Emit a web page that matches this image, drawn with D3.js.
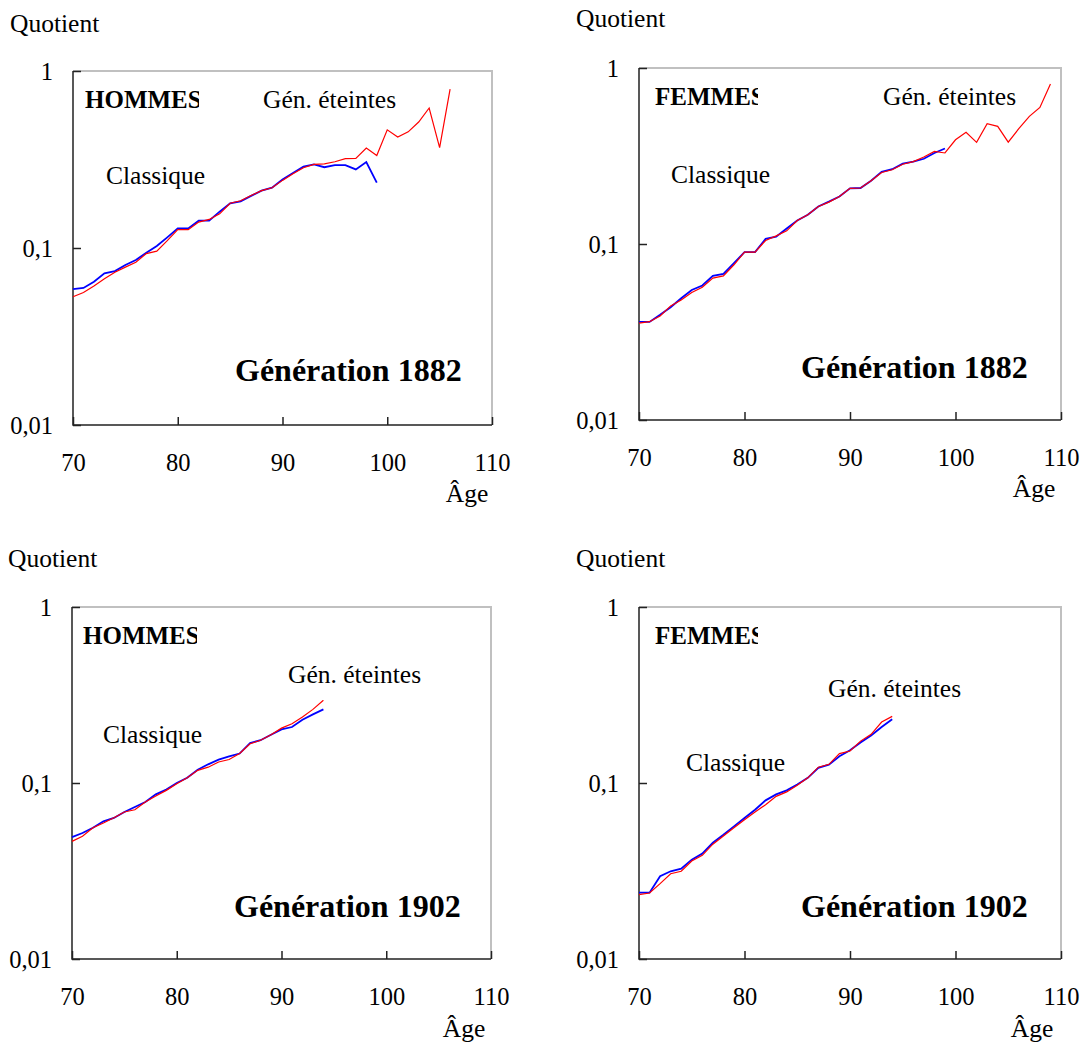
<!DOCTYPE html>
<html>
<head>
<meta charset="utf-8">
<script src="https://cdn.jsdelivr.net/npm/d3@7"></script>
<style>
  body { margin: 0; background: #fff; }
  text { font-family: "Liberation Serif", "Times New Roman", "DejaVu Serif", serif; }
</style>
</head>
<body>
<svg id="chart" width="1083" height="1043"></svg>
<script>
// quotients de mortalité, âge 70 et suivants (un point par année)
const AGE_START = 70;
const X_TICKS = [70, 80, 90, 100, 110];
const Y_TICKS = [1, 0.1, 0.01];
const Y_LABELS = ['1', '0,1', '0,01'];

const hommes1882Eteintes = [0.053, 0.056, 0.061, 0.067, 0.073, 0.078, 0.083, 0.093, 0.096, 0.110,
  0.127, 0.127, 0.140, 0.145, 0.156, 0.179, 0.185, 0.198, 0.211, 0.219,
  0.241, 0.263, 0.284, 0.297, 0.299, 0.307, 0.320, 0.321, 0.367, 0.333,
  0.465, 0.424, 0.453, 0.515, 0.618, 0.369, 0.79];
const hommes1882Classique = [0.0585, 0.0595, 0.0645, 0.0719, 0.0741, 0.0801, 0.0855, 0.0941, 0.1026, 0.1148,
  0.129, 0.129, 0.1427, 0.1427, 0.1604, 0.1788, 0.1836, 0.197, 0.211, 0.219,
  0.244, 0.265, 0.288, 0.297, 0.286, 0.294, 0.294, 0.278, 0.306, 0.234];

const femmes1882Eteintes = [0.0355, 0.0362, 0.0390, 0.0445, 0.0481, 0.0530, 0.0568, 0.0640, 0.0659, 0.0762,
  0.0899, 0.0899, 0.1047, 0.1112, 0.1188, 0.136, 0.1466, 0.1634, 0.173, 0.186,
  0.207, 0.208, 0.229, 0.255, 0.264, 0.284, 0.294, 0.312, 0.336, 0.329,
  0.391, 0.431, 0.378, 0.482, 0.466, 0.379, 0.452, 0.531, 0.597, 0.811];
const femmes1882Classique = [0.0361, 0.0361, 0.0396, 0.0437, 0.0492, 0.0548, 0.0581, 0.0659, 0.0676, 0.0778,
  0.0899, 0.0899, 0.107, 0.110, 0.1225, 0.136, 0.1466, 0.1634, 0.174, 0.186,
  0.207, 0.208, 0.229, 0.257, 0.266, 0.286, 0.294, 0.305, 0.329, 0.349];

const hommes1902Eteintes = [0.0466, 0.0498, 0.0557, 0.0593, 0.0635, 0.0684, 0.0705, 0.078, 0.0843, 0.0908,
  0.0991, 0.107, 0.118, 0.123, 0.1316, 0.136, 0.147, 0.167, 0.175, 0.188,
  0.205, 0.217, 0.237, 0.262, 0.295];
const hommes1902Classique = [0.0493, 0.052, 0.0557, 0.0606, 0.0633, 0.0684, 0.073, 0.078, 0.0862, 0.0917,
  0.100, 0.107, 0.119, 0.1277, 0.1357, 0.1418, 0.147, 0.1687, 0.175, 0.188,
  0.2018, 0.208, 0.229, 0.2455, 0.262];

const femmes1902Eteintes = [0.0232, 0.0237, 0.0268, 0.0305, 0.0315, 0.0360, 0.0388, 0.0449, 0.050, 0.0557,
  0.0619, 0.0684, 0.0753, 0.084, 0.089, 0.097, 0.107, 0.123, 0.1277, 0.147,
  0.152, 0.173, 0.189, 0.222, 0.239];
const femmes1902Classique = [0.0238, 0.0238, 0.0295, 0.0315, 0.0326, 0.0367, 0.0397, 0.0458, 0.0508, 0.0567,
  0.0632, 0.0705, 0.0797, 0.0862, 0.0908, 0.098, 0.107, 0.122, 0.127, 0.1418,
  0.1533, 0.170, 0.186, 0.208, 0.230];

// mise en page des 4 panneaux (positions relatives au cadre)
const PANELS = [
  { x: 73, y: 71, w: 419, h: 354, sexe: 'HOMMES', clipW: 126, sexeX: 12, gen: 'Génération 1882',
    eteintes: hommes1882Eteintes, classique: hommes1882Classique,
    classiquePos: [33, 113], eteintesPos: [190, 37], quotientPos: [-63, -39], agePos: [394, 431] },
  { x: 639, y: 68, w: 422, h: 352, sexe: 'FEMMES', clipW: 119, sexeX: 16, gen: 'Génération 1882',
    eteintes: femmes1882Eteintes, classique: femmes1882Classique,
    classiquePos: [32, 115], eteintesPos: [244, 37], quotientPos: [-63, -41], agePos: [395, 429] },
  { x: 72, y: 607, w: 419, h: 352, sexe: 'HOMMES', clipW: 125, sexeX: 11, gen: 'Génération 1902',
    eteintes: hommes1902Eteintes, classique: hommes1902Classique,
    classiquePos: [31, 136], eteintesPos: [216, 76], quotientPos: [-64, -40], agePos: [392, 430] },
  { x: 639, y: 607, w: 422, h: 352, sexe: 'FEMMES', clipW: 119, sexeX: 16, gen: 'Génération 1902',
    eteintes: femmes1902Eteintes, classique: femmes1902Classique,
    classiquePos: [47, 164], eteintesPos: [189, 90], quotientPos: [-63, -40], agePos: [393, 430] },
];

const svg = d3.select('#chart');
const SERIF = '"Liberation Serif", "Times New Roman", "DejaVu Serif", serif';

PANELS.forEach((p, k) => {
  const x = d3.scaleLinear().domain([70, 110]).range([p.x, p.x + p.w]);
  const y = d3.scaleLog().domain([0.01, 1]).range([p.y + p.h, p.y]);
  const g = svg.append('g');

  // cadre : haut et droite en gris clair, gauche et bas en noir
  g.append('path')
    .attr('d', `M${p.x},${p.y}H${p.x + p.w}V${p.y + p.h}`)
    .attr('fill', 'none').attr('stroke', '#c0c0c0').attr('stroke-width', 2);
  g.append('path')
    .attr('d', `M${p.x},${p.y}V${p.y + p.h}H${p.x + p.w}`)
    .attr('fill', 'none').attr('stroke', '#222').attr('stroke-width', 1.5);

  const yAxis = g.append('g')
    .attr('transform', `translate(${p.x},0)`)
    .call(d3.axisLeft(y).tickValues(Y_TICKS).tickSize(-8).tickSizeOuter(0).tickPadding(20)
      .tickFormat((d, i) => Y_LABELS[i]));
  const xAxis = g.append('g')
    .attr('transform', `translate(0,${p.y + p.h})`)
    .call(d3.axisBottom(x).tickValues(X_TICKS).tickSize(-8).tickSizeOuter(0).tickPadding(29));
  [yAxis, xAxis].forEach(a => {
    a.select('.domain').remove();
    a.attr('font-family', null).attr('font-size', null);
    a.selectAll('line').attr('stroke', '#222').attr('stroke-width', 1.5);
    a.selectAll('text').attr('fill', '#000')
      .style('font-family', SERIF).style('font-size', '24.5px');
  });
  yAxis.selectAll('text').attr('dy', '0.33em');

  const line = d3.line()
    .x((d, i) => x(AGE_START + i))
    .y(d => y(d));

  g.append('path').datum(p.classique)
    .attr('d', line).attr('fill', 'none')
    .attr('stroke', '#0000ff').attr('stroke-width', 1.8);
  g.append('path').datum(p.eteintes)
    .attr('d', line).attr('fill', 'none')
    .attr('stroke', '#ff0000').attr('stroke-width', 1.2);

  // titre du sexe, coupé comme dans l'original
  const clipId = 'clip' + k;
  svg.append('clipPath').attr('id', clipId)
    .append('rect').attr('x', p.x).attr('y', p.y).attr('width', p.clipW).attr('height', 60);
  g.append('text')
    .attr('x', p.x + p.sexeX).attr('y', p.y + 37)
    .attr('clip-path', `url(#${clipId})`)
    .style('font-family', SERIF).style('font-size', '25px').style('font-weight', 'bold')
    .text(p.sexe);

  g.append('text')
    .attr('x', p.x + p.eteintesPos[0]).attr('y', p.y + p.eteintesPos[1])
    .style('font-family', SERIF).style('font-size', '25.5px').text('Gén. éteintes');
  g.append('text')
    .attr('x', p.x + p.classiquePos[0]).attr('y', p.y + p.classiquePos[1])
    .style('font-family', SERIF).style('font-size', '25.5px').text('Classique');
  g.append('text')
    .attr('x', p.x + 162).attr('y', p.y + 310)
    .style('font-family', SERIF).style('font-size', '32px').style('font-weight', 'bold')
    .text(p.gen);
  g.append('text')
    .attr('x', p.x + p.quotientPos[0]).attr('y', p.y + p.quotientPos[1])
    .style('font-family', SERIF).style('font-size', '25.5px').text('Quotient');
  g.append('text')
    .attr('x', p.x + p.agePos[0]).attr('y', p.y + p.agePos[1])
    .attr('text-anchor', 'middle')
    .style('font-family', SERIF).style('font-size', '25.5px').text('Âge');
});
</script>
</body>
</html>
